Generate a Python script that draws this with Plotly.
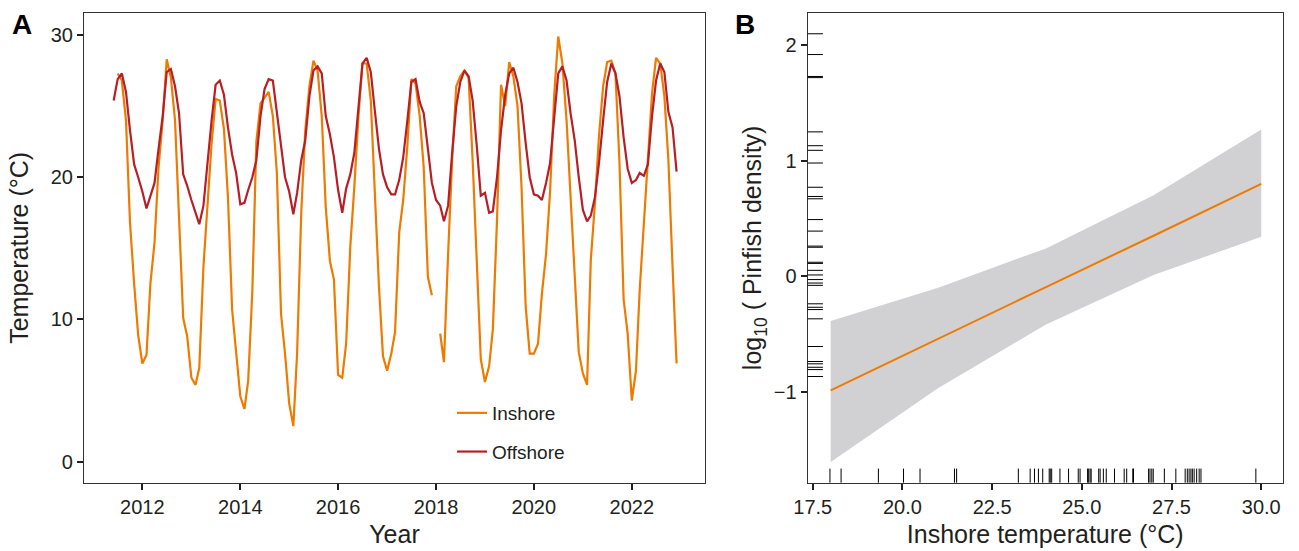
import pandas as pd
import plotly.graph_objects as go

# ---------------- Panel A data (monthly, Jun 2011 - Dec 2022) ----------------
month_start = "2011-06-01"
month_end = "2022-12-01"

inshore_temp = [
    None, 27.3, 26.8, 24.0, 16.8, 12.5, 8.9,                               # 2011 Jun-Dec
    6.9, 7.5, 12.5, 15.4, 20.7, 24.0, 28.3, 27.0, 24.0, 17.7, 10.1, 8.8,   # 2012
    5.9, 5.4, 6.6, 13.7, 17.9, 22.4, 25.5, 25.4, 23.4, 18.6, 10.7, 7.4,    # 2013
    4.6, 3.7, 5.7, 12.0, 22.5, 25.2, 25.6, 26.0, 24.3, 20.3, 10.4, 7.6,    # 2014
    4.1, 2.5, 7.6, 17.5, 23.3, 26.4, 28.2, 27.5, 24.3, 17.9, 14.1, 12.8,   # 2015
    6.1, 5.9, 8.3, 15.1, 19.3, 24.3, 28.0, 28.0, 25.4, 19.3, 12.3, 7.4,    # 2016
    6.4, 7.6, 9.1, 16.1, 18.4, 22.2, 26.9, 26.6, 24.3, 20.7, 13.0, 11.7,   # 2017
    None, 9.0, 7.0, 14.6, 21.2, 26.4, 27.1, 27.5, 27.0, 21.2, 14.6, 7.2,   # 2018
    5.6, 6.7, 9.3, 17.0, 26.5, 25.0, 28.1, 27.1, 25.0, 19.3, 10.9, 7.6,    # 2019
    7.6, 8.3, 11.8, 14.6, 19.0, 25.8, 29.9, 28.0, 24.0, 18.9, 13.0, 7.7,   # 2020
    6.2, 5.4, 14.2, 18.2, 22.9, 26.4, 28.1, 28.2, 27.3, 21.0, 11.4, 9.0,   # 2021
    4.3, 6.4, 12.1, 17.0, 21.7, 25.9, 28.4, 28.0, 25.7, 21.2, 13.7, 6.9,   # 2022
]

offshore_temp = [
    25.4, 26.9, 27.3, 26.0, 23.3, 20.9, 20.0,                              # 2011 Jun-Dec
    19.0, 17.8, 18.7, 19.6, 22.0, 24.3, 27.4, 27.6, 26.4, 24.5, 20.2, 19.4, # 2012
    18.4, 17.5, 16.7, 18.0, 21.2, 24.0, 26.5, 26.8, 25.8, 23.5, 21.6, 20.3, # 2013
    18.1, 18.2, 19.1, 20.0, 21.2, 24.3, 26.2, 26.9, 26.8, 24.5, 22.1, 20.0, # 2014
    19.0, 17.4, 18.9, 21.2, 22.6, 25.7, 27.5, 27.8, 27.3, 24.3, 23.0, 21.4, # 2015
    19.1, 17.5, 19.2, 20.2, 21.7, 25.2, 28.0, 28.4, 27.4, 24.7, 22.0, 20.2, # 2016
    19.3, 18.8, 18.8, 19.8, 21.4, 24.0, 26.7, 26.9, 25.3, 24.5, 21.9, 19.6, # 2017
    18.4, 18.0, 16.9, 18.0, 21.7, 25.0, 26.7, 27.5, 27.1, 25.4, 22.2, 18.7, # 2018
    18.9, 17.5, 17.6, 20.0, 23.3, 25.8, 27.3, 27.7, 26.7, 25.2, 22.4, 20.0, # 2019
    18.8, 18.7, 18.4, 19.6, 21.0, 24.0, 27.3, 27.8, 26.8, 24.5, 22.6, 20.0, # 2020
    17.7, 16.9, 17.3, 18.6, 21.0, 24.0, 26.7, 28.0, 27.3, 25.7, 22.8, 20.6, # 2021
    19.6, 19.8, 20.3, 20.1, 20.9, 24.3, 26.8, 28.0, 27.4, 24.6, 23.5, 20.4, # 2022
]

year_ticks = [2012, 2014, 2016, 2018, 2020, 2022]
temp_ticks = [0, 10, 20, 30]

# ---------------- Panel B data ----------------
fit_temp = [18.0, 21.0, 24.0, 27.0, 30.0]
fit_mean = [-0.99, -0.54, -0.095, 0.35, 0.80]
fit_upper = [-0.39, -0.10, 0.24, 0.70, 1.27]
fit_lower = [-1.61, -0.97, -0.42, 0.01, 0.34]

rug_temp = [17.98, 18.29, 19.33, 20.03, 20.49, 21.45, 21.51,
            23.23, 23.56, 23.68, 23.79, 23.91, 24.09, 24.12, 24.16, 24.39,
            24.63, 24.90, 24.95, 25.16, 25.19, 25.23, 25.26, 25.47, 25.51,
            25.60, 25.68, 25.91, 26.18, 26.25, 26.42, 26.44, 26.86, 26.90,
            26.95, 26.99, 27.30, 27.62, 27.88, 27.94, 27.99, 28.04, 28.08,
            28.13, 28.20, 28.27, 28.32, 29.85]
rug_density = [2.10, 1.92, 1.73, 1.72, 1.25, 1.13, 1.09, 0.98, 0.77, 0.69,
               0.67, 0.49, 0.39, 0.26, 0.25, 0.12, 0.11, 0.05, 0.01, -0.03,
               -0.06, -0.08, -0.24, -0.27, -0.29, -0.37, -0.61, -0.74, -0.76,
               -0.79, -0.81, -0.87]

b_xticks = [17.5, 20.0, 22.5, 25.0, 27.5, 30.0]
b_yticks = [-1, 0, 1, 2]

# ---------------- styling ----------------
C_IN = "#EE7A00"
C_OFF = "#B81E25"
C_BAND = "#D1D0D2"
TXT = "#231F20"
AXC = "#333333"
FONT = "Liberation Sans, Arial, sans-serif"

dates = pd.date_range(month_start, month_end, freq="MS")

fig = go.Figure()
fig.add_trace(go.Scatter(x=dates, y=inshore_temp, mode="lines", name="Inshore",
                         legendgroup="in", line=dict(color=C_IN, width=2.2),
                         connectgaps=False, xaxis="x", yaxis="y"))
fig.add_trace(go.Scatter(x=dates, y=offshore_temp, mode="lines", name="Offshore",
                         legendgroup="off", line=dict(color=C_OFF, width=2.2),
                         xaxis="x", yaxis="y"))

# Panel B band + fit
fig.add_trace(go.Scatter(x=fit_temp, y=fit_lower, mode="lines", line=dict(width=0, color=C_BAND),
                         showlegend=False, hoverinfo="skip", xaxis="x2", yaxis="y2"))
fig.add_trace(go.Scatter(x=fit_temp, y=fit_upper, mode="lines", line=dict(width=0, color=C_BAND),
                         fill="tonexty", fillcolor=C_BAND, showlegend=False,
                         hoverinfo="skip", xaxis="x2", yaxis="y2"))
fig.add_trace(go.Scatter(x=fit_temp, y=fit_mean, mode="lines", line=dict(color=C_IN, width=2),
                         showlegend=False, xaxis="x2", yaxis="y2"))

shapes = []
for t in rug_temp:
    shapes.append(dict(type="line", xref="x2", yref="y2 domain", x0=t, x1=t, y0=0, y1=0.03,
                       line=dict(color="black", width=1)))
for d in rug_density:
    shapes.append(dict(type="line", xref="x2 domain", yref="y2", x0=0, x1=0.032, y0=d, y1=d,
                       line=dict(color="black", width=1)))

ydom = [0.124, 0.9764]
common_axis = dict(showgrid=False, zeroline=False, showline=True, mirror=True,
                   linecolor=AXC, linewidth=1.3, ticks="outside", ticklen=6,
                   tickwidth=1.5, tickcolor=TXT, automargin=False,
                   tickfont=dict(size=20, color=TXT, family=FONT),
                   title_font=dict(size=25, color=TXT, family=FONT))

fig.update_layout(
    width=1299, height=551,
    margin=dict(l=0, r=0, t=0, b=0),
    paper_bgcolor="white", plot_bgcolor="white",
    font=dict(family=FONT, color=TXT),
    xaxis=dict(domain=[0.0647, 0.5427], type="date",
               range=["2010-10-23", "2023-07-01"],
               tickvals=[f"{y}-01-01" for y in year_ticks],
               ticktext=[str(y) for y in year_ticks],
               title=dict(text="Year", standoff=8), anchor="y", **common_axis),
    yaxis=dict(domain=ydom, range=[-1.48, 31.55], tickvals=temp_ticks,
               title=dict(text="Temperature (°C)", standoff=14), anchor="x", **common_axis),
    xaxis2=dict(domain=[0.6218, 0.9875], range=[17.36, 30.6], tickvals=b_xticks,
                tickformat=".1f",
                title=dict(text="Inshore temperature (°C)", standoff=8), anchor="y2",
                **common_axis),
    yaxis2=dict(domain=ydom, range=[-1.79, 2.28], tickvals=b_yticks,
                title=dict(text="log<sub>10</sub> ( Pinfish density)", standoff=4),
                anchor="x2", **common_axis),
    legend=dict(x=452 / 1299, y=1 - 394 / 551, xanchor="left", yanchor="top",
                bgcolor="rgba(0,0,0,0)", font=dict(size=19, color=TXT, family=FONT),
                tracegroupgap=11, itemwidth=30),
    shapes=shapes,
    annotations=[
        dict(text="<b>A</b>", x=22 / 1299, y=1 - 24 / 551, xref="paper", yref="paper",
             xanchor="center", yanchor="middle", showarrow=False,
             font=dict(size=28, color="black", family=FONT)),
        dict(text="<b>B</b>", x=745 / 1299, y=1 - 24 / 551, xref="paper", yref="paper",
             xanchor="center", yanchor="middle", showarrow=False,
             font=dict(size=28, color="black", family=FONT)),
    ],
)

fig.write_html("out.html")
